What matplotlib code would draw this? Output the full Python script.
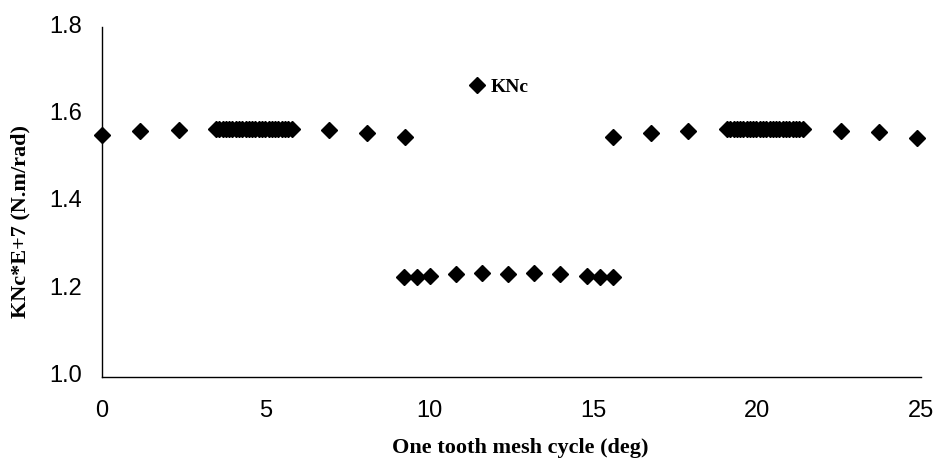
import numpy as np
import matplotlib
matplotlib.use("Agg")
import matplotlib.pyplot as plt
import matplotlib.transforms as mtransforms

# ---- data ----
x_left = [0.0, 1.18, 2.36]
y_left = [1.554, 1.561, 1.564]
x_clust1 = [3.49, 3.59, 3.69, 3.79, 3.89, 3.99, 4.09, 4.19, 4.29, 4.39, 4.49, 4.59,
            4.69, 4.79, 4.89, 4.99, 5.09, 5.19, 5.29, 5.39, 5.49, 5.59, 5.69, 5.81]
y_clust1 = [1.567] * len(x_clust1)
x_mid1 = [6.93, 8.09, 9.26]
y_mid1 = [1.564, 1.558, 1.548]
x_low = [9.23, 9.63, 10.02, 10.81, 11.60, 12.39, 13.19, 13.98, 14.82, 15.20, 15.61]
y_low = [1.228, 1.228, 1.230, 1.235, 1.237, 1.236, 1.238, 1.235, 1.230, 1.228, 1.227]
x_mid2 = [15.61, 16.76, 17.90]
y_mid2 = [1.549, 1.558, 1.562]
x_clust2 = [19.08, 19.18, 19.28, 19.38, 19.48, 19.58, 19.68, 19.78, 19.88, 19.98, 20.08,
            20.18, 20.28, 20.38, 20.48, 20.58, 20.68, 20.78, 20.88, 20.98, 21.08, 21.18,
            21.28, 21.41]
y_clust2 = [1.566] * len(x_clust2)
x_right = [22.56, 23.72, 24.88]
y_right = [1.563, 1.559, 1.547]

x_all = x_left + x_clust1 + x_mid1 + x_low + x_mid2 + x_clust2 + x_right
y_all = y_left + y_clust1 + y_mid1 + y_low + y_mid2 + y_clust2 + y_right

x_ticks = [0, 5, 10, 15, 20, 25]
y_ticks = [1.0, 1.2, 1.4, 1.6, 1.8]
series_name = "KNc"
x_label = "One tooth mesh cycle (deg)"
y_label = "KNc*E+7 (N.m/rad)"

fig = plt.figure(figsize=(9.4, 4.68), dpi=100)
ax = fig.add_axes([0.1082, 0.1951, 0.8716, 0.7472])

ax.plot(x_all, y_all, linestyle="none", marker="D", markersize=8.3,
        color="black", label=series_name, clip_on=False)

ax.set_xlim(0, 25)
ax.set_ylim(1.0, 1.8)
ax.set_xticks(x_ticks)
ax.set_yticks(y_ticks)
ax.set_yticklabels([f"{v:.1f}" for v in y_ticks])
ax.tick_params(length=0, labelsize=17)
ax.tick_params(axis="x", pad=17)
ax.tick_params(axis="y", pad=14)
shift_up = mtransforms.ScaledTranslation(0, 3 / 100, fig.dpi_scale_trans)
for lab in ax.get_yticklabels():
    lab.set_fontfamily("Liberation Sans")
    lab.set_transform(lab.get_transform() + shift_up)
for lab in ax.get_xticklabels():
    lab.set_fontfamily("Liberation Sans")

for s in ["top", "right"]:
    ax.spines[s].set_visible(False)
for s in ["left", "bottom"]:
    ax.spines[s].set_linewidth(1.0)
    ax.spines[s].set_color("black")

serif = {"family": "Liberation Serif", "weight": "bold", "size": 16}
ax.set_xlabel(x_label, fontdict=serif)
ax.set_ylabel(y_label, fontdict=serif)
ax.xaxis.set_label_coords(0.511, -0.203)
ax.yaxis.set_label_coords(-0.0997, 0.443)
ax.xaxis.label.set_verticalalignment("center")
ax.yaxis.label.set_verticalalignment("center")

leg = ax.legend(loc="center left", bbox_to_anchor=(0.449, 0.829), frameon=False,
                handlelength=0.8, handletextpad=0.3, borderpad=0, borderaxespad=0,
                prop={"family": "Liberation Serif", "weight": "bold", "size": 14},
                markerscale=0.95)

fig.savefig("out.png", dpi=100)
